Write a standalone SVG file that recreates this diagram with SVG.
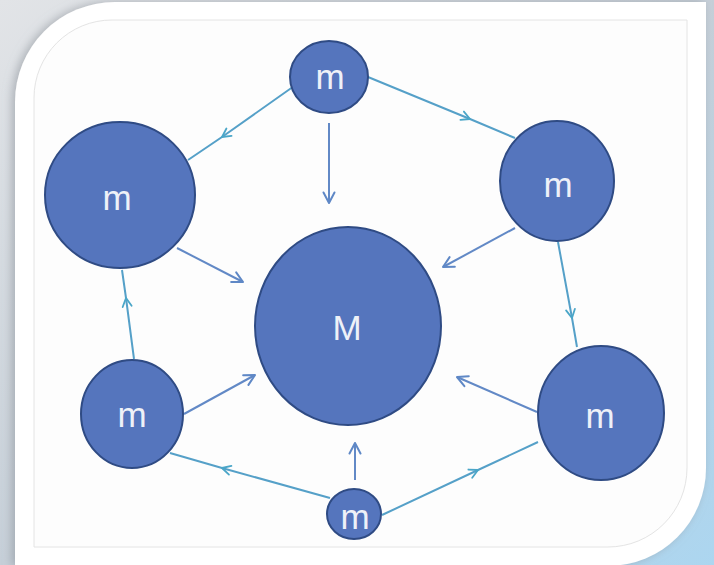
<svg xmlns="http://www.w3.org/2000/svg" width="714" height="565" viewBox="0 0 714 565">
  <defs>
    <linearGradient id="bg" x1="0" y1="0" x2="1" y2="1">
      <stop offset="0" stop-color="#e2e4e7"/>
      <stop offset="0.5" stop-color="#c6cfd8"/>
      <stop offset="1" stop-color="#acd6f0"/>
    </linearGradient>
    <filter id="sh" x="-10%" y="-10%" width="120%" height="120%">
      <feDropShadow dx="-3" dy="0" stdDeviation="5" flood-color="#8a9098" flood-opacity="0.6"/>
    </filter>
    <marker id="endA" viewBox="0 0 14 14" refX="12.5" refY="7" markerWidth="14" markerHeight="14" markerUnits="userSpaceOnUse" orient="auto">
      <path d="M2,1.5 L12.5,7 L2,12.5" fill="none" stroke="#5f88c6" stroke-width="2" stroke-linecap="round" stroke-linejoin="round"/>
    </marker>
    <marker id="midA" viewBox="0 0 12 12" refX="10.5" refY="6" markerWidth="12" markerHeight="12" markerUnits="userSpaceOnUse" orient="auto">
      <path d="M2,1.5 L10.5,6 L2,10.5" fill="none" stroke="#4aa6c8" stroke-width="1.8" stroke-linecap="round" stroke-linejoin="round"/>
    </marker>
  </defs>
  <style>
    .node { fill: #5575bd; stroke: #2f4b84; stroke-width: 2; }
    .lbl { fill: #eef1f8; font-family: "Liberation Sans", Arial, sans-serif; font-size: 35px; text-anchor: middle; }
    .rim { fill: none; stroke: #55a0c8; stroke-width: 2; marker-mid: url(#midA); }
    .spoke { fill: none; stroke: #6289c6; stroke-width: 2; marker-end: url(#endA); }
  </style>

  <rect x="0" y="0" width="714" height="565" fill="url(#bg)"/>
  <path d="M115,2 L706,2 L706,468 A98,98 0 0 1 608,566 L15,566 L15,102 A100,100 0 0 1 115,2 Z" fill="#ffffff" filter="url(#sh)"/>
  <path d="M112,20 L687,20 L687,468 A79,79 0 0 1 608,547 L34,547 L34,98 A78,78 0 0 1 112,20 Z" fill="#fdfdfd" stroke="#e4e4e4" stroke-width="1"/>

  <g id="connectors">
    <polyline class="rim" points="297,84 222,137 188,160"/>
    <polyline class="rim" points="368,77 470,119 515,138"/>
    <polyline class="rim" points="558,242 572,318 577,347"/>
    <polyline class="rim" points="382,515 478,470 538,442"/>
    <polyline class="rim" points="330,498 222,468 170,453"/>
    <polyline class="rim" points="134,359 126,298 122,270"/>
    <line class="spoke" x1="329" y1="123" x2="329" y2="203"/>
    <line class="spoke" x1="177" y1="248" x2="243" y2="282"/>
    <line class="spoke" x1="515" y1="228" x2="443" y2="267"/>
    <line class="spoke" x1="537" y1="412" x2="457" y2="377"/>
    <line class="spoke" x1="355" y1="480" x2="355" y2="443"/>
    <line class="spoke" x1="184" y1="414" x2="255" y2="375"/>
  </g>

  <g id="node-center">
    <ellipse class="node" cx="348" cy="326" rx="93" ry="99"/>
    <text class="lbl" x="347" y="340">M</text>
  </g>
  <g id="node-top">
    <ellipse class="node" cx="329" cy="77" rx="39" ry="36"/>
    <text class="lbl" x="330" y="89">m</text>
  </g>
  <g id="node-top-left">
    <ellipse class="node" cx="120" cy="195" rx="75" ry="73"/>
    <text class="lbl" x="117" y="210">m</text>
  </g>
  <g id="node-top-right">
    <ellipse class="node" cx="557" cy="181" rx="57" ry="60"/>
    <text class="lbl" x="558" y="197">m</text>
  </g>
  <g id="node-bottom-left">
    <ellipse class="node" cx="132" cy="414" rx="51" ry="54"/>
    <text class="lbl" x="132" y="427">m</text>
  </g>
  <g id="node-bottom-right">
    <ellipse class="node" cx="601" cy="413" rx="63" ry="67"/>
    <text class="lbl" x="600" y="428">m</text>
  </g>
  <g id="node-bottom">
    <ellipse class="node" cx="354" cy="514" rx="27" ry="25"/>
    <text class="lbl" x="355" y="529">m</text>
  </g>
</svg>
